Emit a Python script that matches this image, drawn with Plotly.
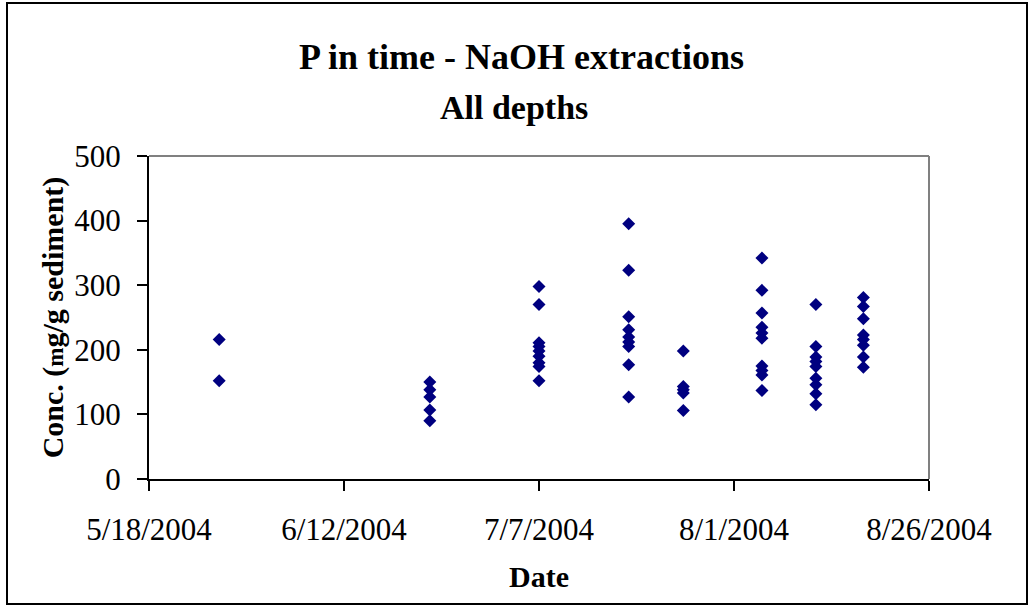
import plotly.graph_objects as go

# Sampling dates (one column of points per date) and NaOH-extractable P concentrations
sample_dates = [
    "2004-05-27",
    "2004-06-23",
    "2004-07-07",
    "2004-07-18 12:00",
    "2004-07-25 12:00",
    "2004-08-04 14:00",
    "2004-08-11 12:00",
    "2004-08-17 14:00",
]
conc_by_date = [
    [216, 152],
    [150, 138, 127, 107, 90],
    [298, 270, 211, 205, 198, 190, 180, 174, 152],
    [395, 323, 251, 231, 220, 212, 205, 177, 127],
    [198, 143, 138, 133, 106],
    [342, 292, 257, 235, 226, 218, 175, 168, 161, 137],
    [270, 205, 189, 182, 174, 156, 146, 132, 115],
    [281, 267, 248, 223, 216, 207, 189, 173],
]

x_range = ["2004-05-18", "2004-08-26"]
y_ticks = [0, 100, 200, 300, 400, 500]

xs, ys = [], []
for d, vals in zip(sample_dates, conc_by_date):
    for v in vals:
        xs.append(d)
        ys.append(v)

W, H = 1032, 609
L, R, T, B = 149, 929, 156, 479  # plot area in pixels
pw, ph = R - L, B - T

FONT = "Liberation Serif, Times New Roman, serif"

fig = go.Figure()
fig.add_trace(go.Scatter(
    x=xs, y=ys, mode="markers",
    marker=dict(symbol="diamond", size=10, color="#000080",
                line=dict(width=0)),
    showlegend=False, cliponaxis=False,
))

def px_x(p):
    return (p - L) / pw

def px_y(p):
    return (B - p) / ph

fig.update_layout(
    width=W, height=H,
    margin=dict(l=L, r=W - R, t=T, b=H - B, pad=0),
    paper_bgcolor="white", plot_bgcolor="white",
    font=dict(family=FONT, color="black", size=30),
    xaxis=dict(
        type="date", range=x_range,
        tick0="2004-05-18", dtick=25 * 86400000,
        tickformat="%-m/%-d/%Y",
        showgrid=False, zeroline=False,
        showline=True, linecolor="black", linewidth=2,
        ticks="outside", ticklen=10, tickwidth=2, tickcolor="black",
        tickfont=dict(family=FONT, size=31), ticklabelstandoff=12,
        title=dict(text="<b>Date</b>", font=dict(family=FONT, size=30), standoff=20),
    ),
    yaxis=dict(
        range=[0, 500], tickvals=y_ticks,
        showgrid=False, zeroline=False,
        showline=True, linecolor="black", linewidth=2,
        ticks="outside", ticklen=10, tickwidth=2, tickcolor="black",
        tickfont=dict(family=FONT, size=31), ticklabelstandoff=10,
        title=dict(text="<b>Conc. (<span style='font-size:23px'>m</span>g/g sediment)</b>",
                   font=dict(family=FONT, size=30), standoff=2),
    ),
    shapes=[
        # plot-area frame on the top and right
        dict(type="line", xref="paper", yref="paper", x0=0, x1=1, y0=1, y1=1,
             line=dict(color="#808080", width=2)),
        dict(type="line", xref="paper", yref="paper", x0=1, x1=1, y0=0, y1=1,
             line=dict(color="#808080", width=2)),
        # chart border
        dict(type="rect", xref="paper", yref="paper",
             x0=px_x(7), x1=px_x(1027), y0=px_y(604), y1=px_y(3),
             line=dict(color="black", width=2), layer="below"),
    ],
    annotations=[
        dict(text="<b>P in time - NaOH extractions</b>", xref="paper", yref="paper",
             x=px_x(521), y=px_y(57), xanchor="center", yanchor="middle",
             showarrow=False, font=dict(family=FONT, size=36)),
        dict(text="<b>All depths</b>", xref="paper", yref="paper",
             x=px_x(514), y=px_y(107), xanchor="center", yanchor="middle",
             showarrow=False, font=dict(family=FONT, size=34)),
    ],
)

fig.write_html("out.html")
